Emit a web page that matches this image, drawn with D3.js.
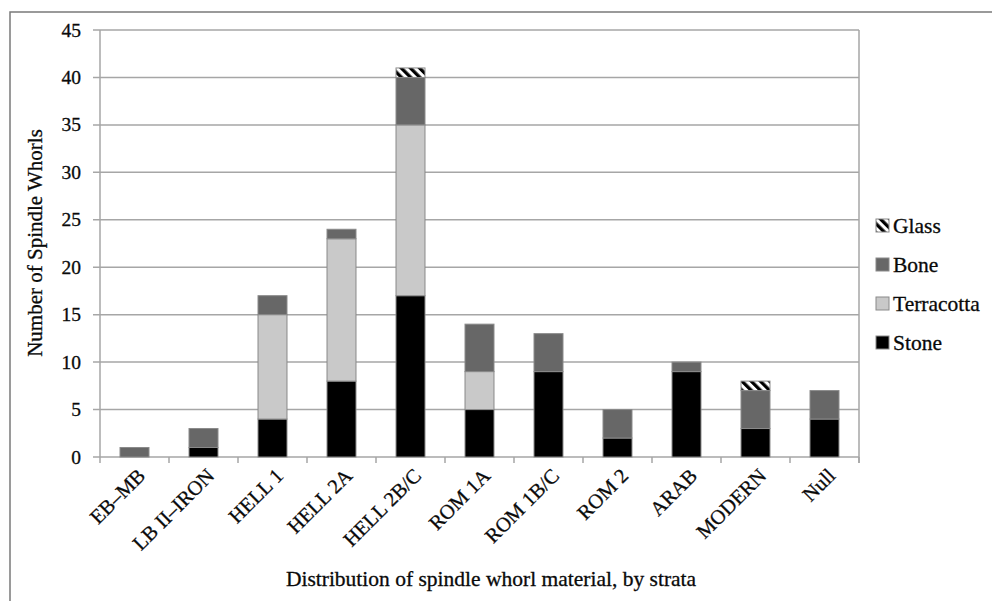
<!DOCTYPE html>
<html>
<head>
<meta charset="utf-8">
<script src="https://cdn.jsdelivr.net/npm/d3@7"></script>
<style>
  html, body { margin: 0; padding: 0; background: #fff; }
  svg { display: block; }
  text { stroke: #0a0a0a; stroke-width: 0.3px; }
</style>
</head>
<body>
<svg id="chart" width="992" height="601"></svg>
<script>
// ---- data ----
const categories = ["EB–MB", "LB II–IRON", "HELL 1", "HELL 2A", "HELL 2B/C", "ROM 1A", "ROM 1B/C", "ROM 2", "ARAB", "MODERN", "Null"];
const stone      = [0, 1, 4, 8, 17, 5, 9, 2, 9, 3, 4];
const terracotta = [0, 0, 11, 15, 18, 4, 0, 0, 0, 0, 0];
const bone       = [1, 2, 2, 1, 5, 5, 4, 3, 1, 4, 3];
const glass      = [0, 0, 0, 0, 1, 0, 0, 0, 0, 1, 0];
const seriesNames = ["Stone", "Terracotta", "Bone", "Glass"];
const yTicks = [0, 5, 10, 15, 20, 25, 30, 35, 40, 45];
const yTitle = "Number of Spindle Whorls";
const xTitle = "Distribution of spindle whorl material, by strata";

// ---- build table ----
const table = categories.map((c, i) => ({
  cat: c, Stone: stone[i], Terracotta: terracotta[i], Bone: bone[i], Glass: glass[i]
}));

const FONT = "'Liberation Serif', 'DejaVu Serif', serif";
const TXT = "#0a0a0a";
const svg = d3.select("#chart").attr("font-family", FONT);
const pLeft = 100, pRight = 859, pTop = 30, pBottom = 457;

// hatch pattern
const defs = svg.append("defs");
const pat = defs.append("pattern")
  .attr("id", "hatch").attr("patternUnits", "userSpaceOnUse")
  .attr("width", 6.5).attr("height", 6.5)
  .attr("patternTransform", "rotate(-45)");
pat.append("rect").attr("width", 6.5).attr("height", 6.5).attr("fill", "#fff");
pat.append("rect").attr("width", 3.3).attr("height", 6.5).attr("fill", "#000");

const fills = { Stone: "#000000", Terracotta: "#c9c9c9", Bone: "#676767", Glass: "url(#hatch)" };

// outer border
svg.append("rect").attr("x", 10).attr("y", 12).attr("width", 1000).attr("height", 700)
  .attr("fill", "none").attr("stroke", "#7a7a7a").attr("stroke-width", 1.5);

const x = d3.scaleBand().domain(categories).range([pLeft, pRight])
  .paddingInner(0.58).paddingOuter(0.29);
const y = d3.scaleLinear().domain([0, 45]).range([pBottom, pTop]);

// gridlines
svg.append("g").selectAll("line").data(yTicks).join("line")
  .attr("x1", pLeft - 7).attr("x2", pRight)
  .attr("y1", d => y(d)).attr("y2", d => y(d))
  .attr("stroke", "#a6a6a6").attr("stroke-width", 1.5);

// y axis line & right border
svg.append("line").attr("x1", pLeft).attr("x2", pLeft).attr("y1", pTop).attr("y2", pBottom)
  .attr("stroke", "#a6a6a6").attr("stroke-width", 1.5);
svg.append("line").attr("x1", pRight).attr("x2", pRight).attr("y1", pTop).attr("y2", pBottom + 6)
  .attr("stroke", "#a6a6a6").attr("stroke-width", 1.5);

// x tick marks at band boundaries
const step = x.step();
const bounds = d3.range(categories.length + 1).map(i => pLeft + i * step);
svg.append("g").selectAll("line").data(bounds).join("line")
  .attr("x1", d => d).attr("x2", d => d).attr("y1", pBottom).attr("y2", pBottom + 6)
  .attr("stroke", "#a6a6a6").attr("stroke-width", 1.5);

// y tick labels
svg.append("g").selectAll("text").data(yTicks).join("text")
  .attr("font-family", FONT)
  .attr("x", 81).attr("y", d => y(d) + 6.5)
  .attr("text-anchor", "end").attr("font-size", 19.5).attr("fill", TXT)
  .text(d => d);

// stacked bars
const stack = d3.stack().keys(seriesNames);
const layers = stack(table);
svg.append("g").selectAll("g").data(layers).join("g")
  .attr("fill", d => fills[d.key])
  .selectAll("rect").data(d => d.filter(s => s[1] - s[0] > 0)).join("rect")
  .attr("x", d => x(d.data.cat))
  .attr("width", x.bandwidth())
  .attr("y", d => y(d[1]))
  .attr("height", d => y(d[0]) - y(d[1]))
  .attr("stroke", "#8a8a8a").attr("stroke-width", 1);

// x labels rotated
svg.append("g").selectAll("text").data(categories).join("text")
  .attr("font-family", FONT)
  .attr("transform", d => `translate(${x(d) + x.bandwidth() / 2 + 12},${pBottom + 20}) rotate(-45)`)
  .attr("text-anchor", "end").attr("font-size", 20.5).attr("fill", TXT)
  .text(d => d);

// axis titles
svg.append("text").attr("font-family", FONT).attr("transform", `translate(42,243) rotate(-90)`)
  .attr("text-anchor", "middle").attr("font-size", 21).attr("fill", TXT).text(yTitle);
svg.append("text").attr("font-family", FONT).attr("x", 491).attr("y", 586)
  .attr("text-anchor", "middle").attr("font-size", 21.5).attr("fill", TXT).text(xTitle);

// legend
const legendOrder = ["Glass", "Bone", "Terracotta", "Stone"];
const lg = svg.append("g").selectAll("g").data(legendOrder).join("g")
  .attr("transform", (d, i) => `translate(876,${226 + i * 39})`);
lg.append("rect").attr("x", 0).attr("y", -7).attr("width", 13).attr("height", 13)
  .attr("fill", d => fills[d]).attr("stroke", "#8a8a8a").attr("stroke-width", 1);
lg.append("text").attr("font-family", FONT).attr("x", 17).attr("y", 6.5)
  .attr("font-size", 21.5).attr("fill", TXT).text(d => d);
</script>
</body>
</html>
